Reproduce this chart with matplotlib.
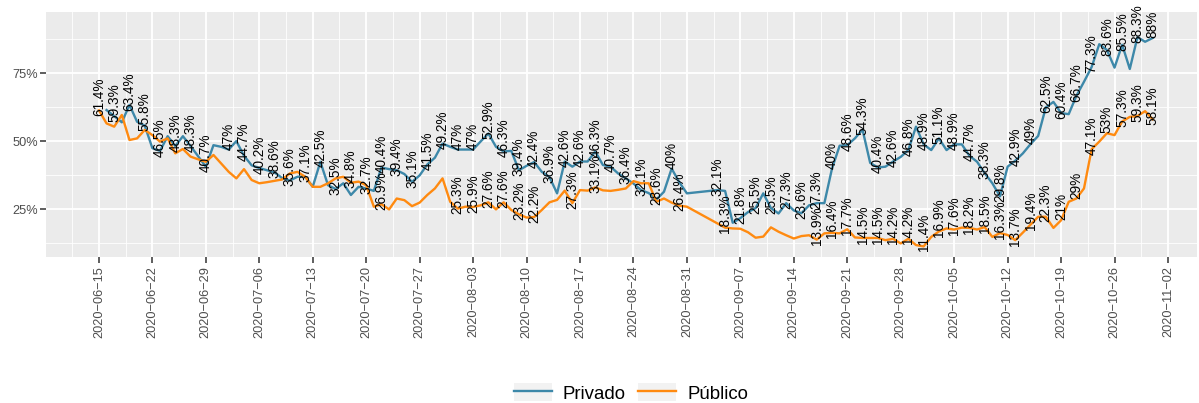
import matplotlib
matplotlib.use('Agg')
import matplotlib.pyplot as plt
import matplotlib.dates as mdates
import numpy as np
import pandas as pd
from matplotlib.lines import Line2D
from matplotlib.patches import Patch
from matplotlib.legend_handler import HandlerTuple

plt.rcParams['font.family'] = ['Liberation Sans', 'DejaVu Sans']

START_DATE = '2020-06-15'

# daily share (%), one value per day from START_DATE, None = no data that day
privado = [
    None, 61.5, 59.3, 57.0, 63.4, 57.2, 55.8, 47.5, 46.5, 51.9,
    48.3, 51.9, 48.3, 44.5, 40.7, 48.6, 48.0, 47.0, 50.1, 44.7,
    41.2, 40.2, 39.4, 38.6, 36.5, 35.6, 37.0, 37.1, 33.3, 42.5,
    33.9, 32.5, 34.6, 30.3, 33.3, 32.7, 31.8, 40.4, 39.8, 39.4,
    38.0, 35.1, 37.5, 41.5, 44.0, 49.2, 48.0, 47.0, 47.0, 47.0,
    50.0, 52.9, 48.0, 46.3, 46.5, 39.4, 41.0, 42.4, 38.8, 36.9,
    30.9, 42.6, 40.7, 42.6, 42.6, 46.3, 41.3, 40.7, 38.2, 36.4,
    34.5, 32.1, 31.0, 28.6, 31.5, 40.0, 35.0, 30.9, None, None,
    None, 32.1, 31.8, 20.1, 21.8, 24.0, 25.5, 30.9, 25.5, 23.5,
    27.3, 24.6, 23.6, 26.5, 27.3, 27.3, 40.0, 48.4, 48.6, 51.1,
    54.3, 42.1, 40.4, 40.7, 42.6, 44.3, 46.8, 55.4, 48.9, 46.8,
    51.1, 46.8, 48.9, 48.9, 44.7, 42.5, 38.3, 34.6, 29.8, 40.7,
    42.9, 45.6, 49.0, 52.0, 62.5, 64.5, 60.4, 60.0, 66.7, 71.9,
    77.3, 85.7, 83.6, 77.1, 85.5, 76.6, 88.3, 86.6, 88.0,
]
publico = [
    61.4, 56.6, 55.4, 59.7, 50.5, 51.1, 54.2, 52.3, 49.9, 51.1,
    45.6, 47.2, 44.4, 43.4, 42.5, 45.0, 41.9, 38.8, 36.4, 39.8,
    35.8, 34.6, 35.0, 35.5, 36.0, 38.2, 38.8, 37.0, 33.3, 33.3,
    34.6, 36.4, 37.0, 34.8, 35.2, 33.9, 26.0, 26.9, 25.0, 29.0,
    28.4, 26.2, 27.5, 30.3, 32.7, 36.4, 27.8, 25.3, 26.0, 25.9,
    26.5, 27.6, 25.0, 27.6, 24.8, 23.2, 22.0, 22.2, 24.8, 27.6,
    28.5, 31.9, 27.3, 32.1, 31.9, 33.1, 32.0, 31.8, 32.2, 32.7,
    35.4, 34.6, 34.6, 27.8, 29.0, 27.5, 26.4, 26.0, None, None,
    None, None, 18.3, 18.0, 17.9, 16.6, 14.6, 15.0, 18.4, 16.8,
    15.5, 14.3, 15.2, 15.5, 13.9, 16.2, 16.4, 16.2, 17.7, 14.7,
    14.5, 14.5, 14.5, 13.7, 14.2, 12.5, 14.2, 11.9, 11.4, 14.9,
    16.9, 18.0, 17.6, 18.3, 18.2, 17.6, 18.5, 14.9, 16.3, 15.6,
    13.7, 16.5, 19.4, 22.3, 22.3, 18.2, 21.0, 27.8, 29.0, 32.7,
    47.1, 49.9, 53.0, 52.3, 57.3, 59.0, 59.3, 61.1, 58.1,
]

# day offsets (from START_DATE) of the points that carry a text label
privado_label_days = [2, 4, 6, 8, 10, 12, 14, 17, 19, 21, 23, 25, 27, 29, 31, 35,
                      37, 39, 41, 43, 45, 47, 49, 51, 53, 55, 57, 59, 61, 63, 65,
                      67, 69, 71, 73, 75, 81, 84, 86, 88, 90, 92, 94, 96, 98, 100,
                      102, 104, 106, 108, 110, 112, 114, 116, 118, 120, 122, 124,
                      126, 128, 130, 132, 134, 136, 138]
publico_label_days = [0, 33, 37, 47, 49, 51, 53, 55, 57, 62, 65, 76, 82, 94, 96,
                      98, 100, 102, 104, 106, 108, 110, 112, 114, 116, 118, 120,
                      122, 124, 126, 128, 130, 132, 134, 136, 138]

series_names = ['Privado', 'Público']
series_colors = ['#3d88a9', '#ff8a10']
y_breaks = [25, 50, 75]

dates = pd.date_range(START_DATE, periods=len(privado), freq='D')
week_ticks = pd.date_range('2020-06-15', '2020-11-02', freq='7D')

W, H = 1199, 403
fig = plt.figure(figsize=(W / 100, H / 100), dpi=100)
left, right, top, bottom = 46, 1197, 11.7, 257.3
ax = fig.add_axes([left / W, 1 - bottom / H, (right - left) / W, (bottom - top) / H])
ax.set_facecolor('#EBEBEB')
for s in ax.spines.values():
    s.set_visible(False)


def fmt(v):
    return f'{v:g}%'


for name, vals, lab_days, col in zip(series_names, [privado, publico],
                                     [privado_label_days, publico_label_days],
                                     series_colors):
    s = pd.Series(vals, index=dates, dtype=float).dropna()
    ax.plot(s.index, s.values, color=col, lw=1.7, zorder=3, solid_joinstyle='round')
    for d in lab_days:
        v = vals[d]
        ax.text(dates[d], v + 5, fmt(v), rotation=90, ha='center', va='center',
                fontsize=9.8, color='black', zorder=4)

# grid / ticks
x0 = mdates.date2num(pd.Timestamp(START_DATE))
ax.set_xticks(week_ticks)
ax.set_xticklabels([d.strftime('%Y-%m-%d').replace('-', '\u2212') for d in week_ticks],
                   rotation=90)
ax.set_xticks(week_ticks - pd.Timedelta(hours=84), minor=True)
ax.set_yticks(y_breaks)
ax.set_yticklabels([f'{b}%' for b in y_breaks])
ax.set_yticks([12.5, 37.5, 62.5, 87.5], minor=True)
ax.grid(which='major', color='white', lw=1.3)
ax.grid(which='minor', color='white', lw=0.6)
ax.set_axisbelow(True)
ax.tick_params(which='major', length=4, width=1.1, color='#333333',
               labelcolor='#4D4D4D', labelsize=9.2, pad=2)
ax.tick_params(which='minor', length=0)

ax.set_xlim(x0 - 6.93, x0 + 143.8)
ax.set_ylim(7.4, 97.65)

handles = [(Patch(facecolor='#F2F2F2', edgecolor='none'),
            Line2D([], [], color=c, lw=1.7)) for c in series_colors]
fig.legend(handles, series_names, handler_map={tuple: HandlerTuple(ndivide=1, pad=0)},
           loc='center', bbox_to_anchor=(631 / W, 1 - 393 / H), ncol=2, frameon=False,
           fontsize=13.4, handlelength=2.05, handleheight=1.1, handletextpad=0.6,
           columnspacing=0.67)

fig.savefig('out.png', dpi=100)
